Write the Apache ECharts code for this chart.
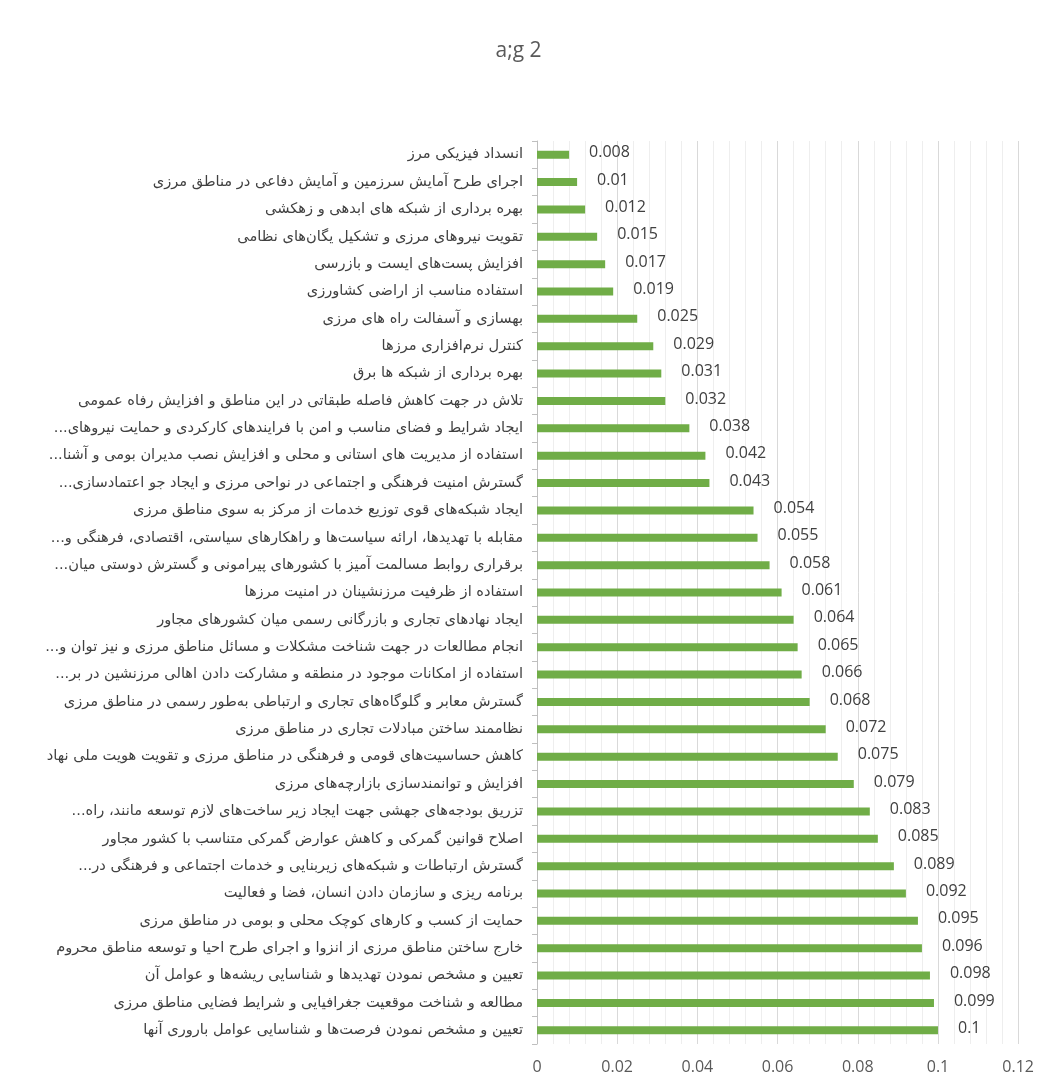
<!DOCTYPE html>
<html>
<head>
<meta charset="utf-8">
<script src="https://cdn.jsdelivr.net/npm/echarts@6/dist/echarts.min.js"></script>
<style>
  html, body { margin: 0; padding: 0; background: #fff; }
  #chart { width: 1037px; height: 1084px; }
</style>
</head>
<body>
<div id="chart"></div>
<script>
// categories, top to bottom
var categories = [
  'انسداد فیزیکی مرز',
  'اجرای طرح آمایش سرزمین و آمایش دفاعی در مناطق مرزی',
  'بهره برداری از شبکه های ابدهی و زهکشی',
  'تقویت نیروهای مرزی و تشکیل یگان‌های نظامی',
  'افزایش پست‌های ایست و بازرسی',
  'استفاده مناسب از اراضی کشاورزی',
  'بهسازی و آسفالت راه های مرزی',
  'کنترل نرم‌افزاری مرزها',
  'بهره برداری از شبکه ها برق',
  'تلاش در جهت کاهش فاصله طبقاتی در این مناطق و افزایش رفاه عمومی',
  'ایجاد شرایط و فضای مناسب و امن با فرایندهای کارکردی و حمایت نیروهای...',
  'استفاده از مدیریت های استانی و محلی و افزایش نصب مدیران بومی و آشنا...',
  'گسترش امنیت فرهنگی و اجتماعی در نواحی مرزی و ایجاد جو اعتمادسازی...',
  'ایجاد شبکه‌های قوی توزیع خدمات از مرکز به سوی مناطق مرزی',
  'مقابله با تهدیدها، ارائه سیاست‌ها و راهکارهای سیاستی، اقتصادی، فرهنگی و...',
  'برقراری روابط مسالمت آمیز با کشورهای پیرامونی و گسترش دوستی میان...',
  'استفاده از ظرفیت مرزنشینان در امنیت مرزها',
  'ایجاد نهادهای تجاری و بازرگانی رسمی میان کشورهای مجاور',
  'انجام مطالعات در جهت شناخت مشکلات و مسائل مناطق مرزی و نیز توان و...',
  'استفاده از امکانات موجود در منطقه و مشارکت دادن اهالی مرزنشین در بر...',
  'گسترش معابر و گلوگاه‌های تجاری و ارتباطی به‌طور رسمی در مناطق مرزی',
  'نظاممند ساختن مبادلات تجاری در مناطق مرزی',
  'کاهش حساسیت‌های قومی و فرهنگی در مناطق مرزی و تقویت هویت ملی نهاد',
  'افزایش و توانمندسازی بازارچه‌های مرزی',
  'تزریق بودجه‌های جهشی جهت ایجاد زیر ساخت‌های لازم توسعه مانند، راه...',
  'اصلاح قوانین گمرکی و کاهش عوارض گمرکی متناسب با کشور مجاور',
  'گسترش ارتباطات و شبکه‌های زیربنایی و خدمات اجتماعی و فرهنگی در...',
  'برنامه ریزی و سازمان دادن انسان، فضا و فعالیت',
  'حمایت از کسب و کارهای کوچک محلی و بومی در مناطق مرزی',
  'خارج ساختن مناطق مرزی از انزوا و اجرای طرح احیا و توسعه مناطق محروم',
  'تعیین و مشخص نمودن تهدیدها و شناسایی ریشه‌ها و عوامل آن',
  'مطالعه و شناخت موقعیت جغرافیایی و شرایط فضایی مناطق مرزی',
  'تعیین و مشخص نمودن فرصت‌ها و شناسایی عوامل باروری آنها'
];

var values = [
  0.008, 0.01, 0.012, 0.015, 0.017, 0.019, 0.025, 0.029, 0.031, 0.032,
  0.038, 0.042, 0.043, 0.054, 0.055, 0.058, 0.061, 0.064, 0.065, 0.066,
  0.068, 0.072, 0.075, 0.079, 0.083, 0.085, 0.089, 0.092, 0.095, 0.096,
  0.098, 0.099, 0.1
];

var axisMin = 0;
var axisMax = 0.12;
var axisStep = 0.02;

var chart = echarts.init(document.getElementById('chart'));

var option = {
  backgroundColor: '#fff',
  animation: false,
  title: {
    text: 'a;g 2',
    left: 'center',
    top: 36,
    textStyle: {
      fontFamily: 'Open Sans',
      fontSize: 21,
      fontWeight: 'normal',
      color: '#595959'
    }
  },
  grid: {
    left: 537,
    right: 15,
    top: 141,
    bottom: 40
  },
  xAxis: {
    type: 'value',
    min: axisMin,
    max: axisMax,
    interval: axisStep,
    axisLine: { show: false },
    axisTick: { show: false },
    axisLabel: {
      fontFamily: 'Open Sans',
      fontSize: 16,
      color: '#595959',
      margin: 15
    },
    splitLine: { lineStyle: { color: '#d9d9d9', width: 1 } },
    minorTick: { show: false, splitNumber: 5 },
    minorSplitLine: { show: true, lineStyle: { color: '#eeeeee', width: 1 } }
  },
  yAxis: {
    type: 'category',
    inverse: true,
    data: categories,
    axisLine: { lineStyle: { color: '#bfbfbf' } },
    axisTick: { show: true, length: 5, lineStyle: { color: '#bfbfbf' } },
    axisLabel: {
      fontFamily: 'DejaVu Sans',
      fontSize: 14.6,
      color: '#404040',
      margin: 14,
      // keep the trailing dots on the left side of the right-to-left text
      formatter: function (v) { return v + '\u200F'; }
    }
  },
  series: [
    {
      type: 'bar',
      data: values,
      barWidth: 8,
      itemStyle: { color: '#70ad47' },
      label: {
        show: true,
        position: 'right',
        distance: 20,
        offset: [0, -2],
        fontFamily: 'Open Sans',
        fontSize: 16,
        color: '#404040'
      }
    }
  ]
};

chart.setOption(option);
</script>
</body>
</html>
